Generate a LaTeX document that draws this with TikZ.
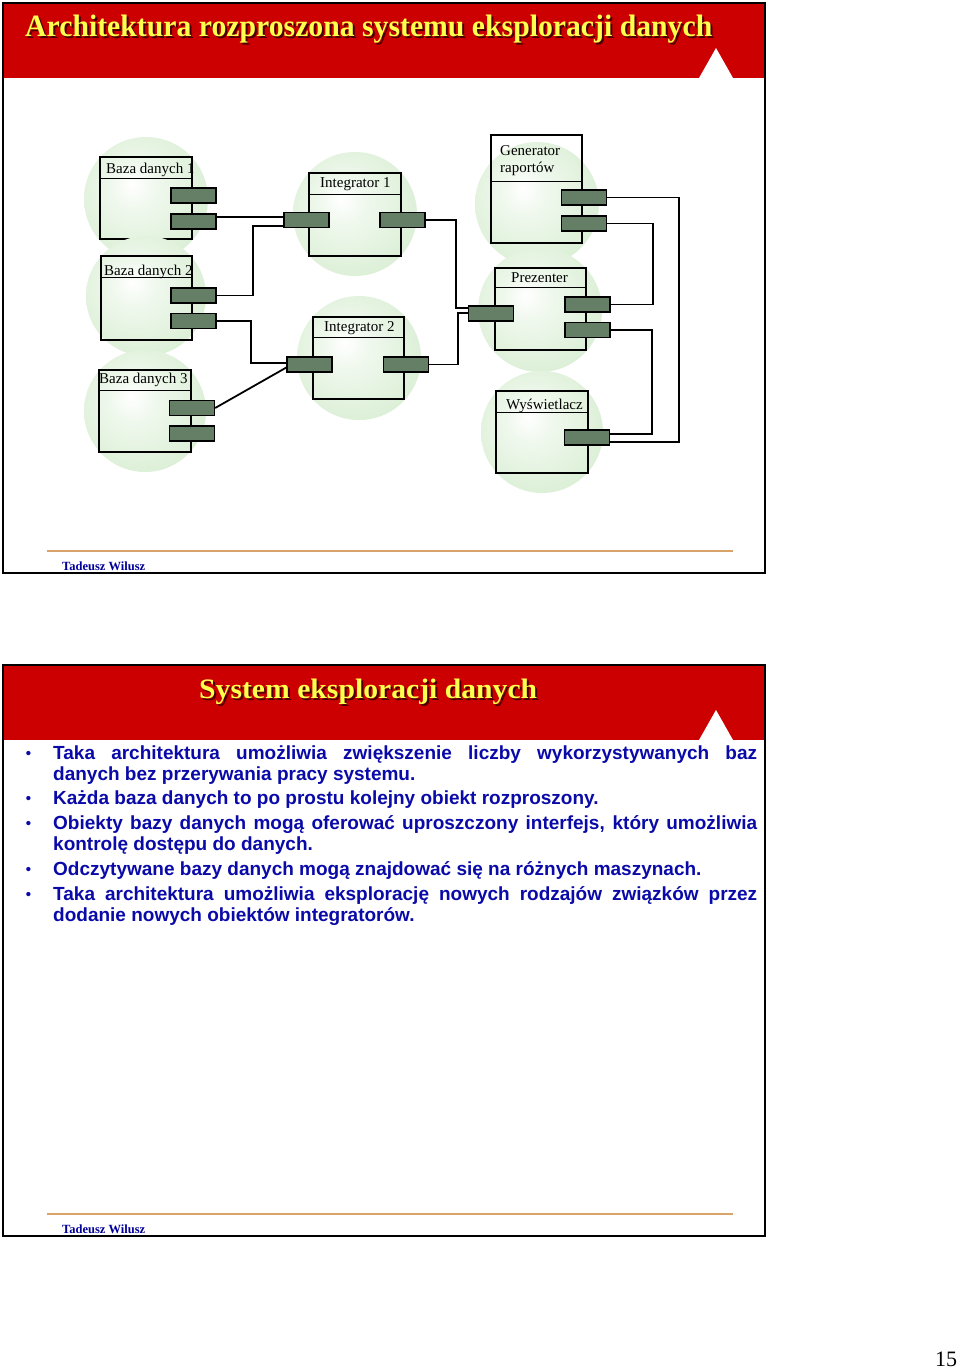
\documentclass[tikz,border=0pt]{standalone}
\usepackage{fontspec}
\setmainfont{Liberation Serif}
\newfontfamily\arialfont{Liberation Sans}
\usetikzlibrary{calc}
\definecolor{hdrred}{HTML}{CC0000}
\definecolor{ttlyellow}{HTML}{FFFF4D}
\definecolor{ttlshadow}{HTML}{4A0000}
\definecolor{bubg}{HTML}{D0EAC9}
\colorlet{bubmid}{bubg!35!white}
\definecolor{portg}{HTML}{657E66}
\definecolor{bulblue}{HTML}{0A0AA8}
\definecolor{footblue}{HTML}{000099}
\definecolor{footline}{HTML}{D9A36A}
\pgfdeclareradialshading{bubblesh}{\pgfpoint{-6bp}{6bp}}{color(0bp)=(white); color(10bp)=(bubmid); color(40bp)=(bubg); color(50bp)=(bubg)}
\begin{document}
\begin{tikzpicture}[x=1pt,y=-1pt,
  comp/.style={draw=black, line width=1.5pt, inner sep=0pt},
  port/.style={draw=black, line width=1.3pt, fill=portg, minimum width=45pt, minimum height=15pt, inner sep=0pt},
  wire/.style={draw=black, line width=1.8pt},
  lbl/.style={anchor=base west, inner sep=0pt, font=\fontsize{15}{17.3}\selectfont},
  bub/.style={shading=bubblesh},
  slideframe/.style={draw=black, line width=2pt},
  ttl/.style={anchor=base west, inner sep=0pt, font=\bfseries},
  foot/.style={anchor=base west, inner sep=0pt, text=footblue, font=\fontsize{12.5}{12.5}\selectfont\bfseries},
  footrule/.style={draw=footline, line width=2pt},
  bul/.style={anchor=base west, inner sep=0pt, text=bulblue, font=\arialfont\bfseries\fontsize{19}{21}\selectfont}]
\useasboundingbox (0,0) rectangle (960,1371);
\fill[white] (0,0) rectangle (960,1371);

% ---------- slide 1 ----------
\fill[hdrred] (3,3) rectangle (765,78);
\fill[white] (699,78) -- (716,48) -- (733,78) -- cycle;
\node[ttl, text=ttlshadow] at (27,38) {\resizebox{687pt}{21.5pt}{Architektura rozproszona systemu eksploracji danych}};
\node[ttl, text=ttlyellow] (title1) at (25,36) {\resizebox{687pt}{21.5pt}{Architektura rozproszona systemu eksploracji danych}};
\draw[slideframe] (3,3) rectangle (765,573);

% Baza danych 1
\shade[bub] (146,199) circle (62pt);
\node[comp, minimum width=92pt, minimum height=82pt] (bd1) at (146,198) {};
\draw[comp] ([yshift=-22pt]bd1.north west) -- ([yshift=-22pt]bd1.north east);
\node[lbl] at (106,173) {Baza danych 1};
\node[port] (bd1p1) at (193.5,195.5) {};
\node[port] (bd1p2) at (193.5,221.5) {};

% Baza danych 2
\shade[bub] (146,296) circle (60pt);
\node[comp, minimum width=91pt, minimum height=84pt] (bd2) at (146.5,298) {};
\draw[comp] ([yshift=-22pt]bd2.north west) -- ([yshift=-22pt]bd2.north east);
\node[lbl] at (104,275) {Baza danych 2};
\node[port] (bd2p1) at (193.5,295.5) {};
\node[port] (bd2p2) at (193.5,321) {};

% Baza danych 3
\shade[bub] (145,411) circle (61pt);
\node[comp, minimum width=92pt, minimum height=82pt] (bd3) at (145,411) {};
\draw[comp] ([yshift=-21pt]bd3.north west) -- ([yshift=-21pt]bd3.north east);
\node[lbl] at (99,383.5) {Baza danych 3};
\node[port] (bd3p1) at (192,408) {};
\node[port] (bd3p2) at (192,433.5) {};

% Integrator 1
\shade[bub] (355,214) circle (62pt);
\node[comp, minimum width=92pt, minimum height=83pt] (int1) at (355,214.5) {};
\draw[comp] ([yshift=-22pt]int1.north west) -- ([yshift=-22pt]int1.north east);
\node[lbl] at (320,187) {Integrator 1};
\node[port] (int1pl) at (306.5,220) {};
\node[port] (int1pr) at (402.5,220) {};

% Integrator 2
\shade[bub] (359,358) circle (62pt);
\node[comp, minimum width=91pt, minimum height=82pt] (int2) at (358.5,358) {};
\draw[comp] ([yshift=-21pt]int2.north west) -- ([yshift=-21pt]int2.north east);
\node[lbl] at (324,331) {Integrator 2};
\node[port] (int2pl) at (309.5,364.5) {};
\node[port] (int2pr) at (406,364.5) {};

% Generator raportow
\shade[bub] (537,204) circle (62pt);
\node[comp, minimum width=91pt, minimum height=108pt] (gen) at (536.5,189) {};
\draw[comp] ([yshift=-47pt]gen.north west) -- ([yshift=-47pt]gen.north east);
\node[lbl] at (500,155) {\parbox[t]{80pt}{\raggedright Generator\\raportów}};
\node[port] (genp1) at (584,197.5) {};
\node[port] (genp2) at (584,223.5) {};

% Prezenter
\shade[bub] (540,310) circle (62pt);
\node[comp, minimum width=91pt, minimum height=82pt] (prez) at (540.5,309) {};
\draw[comp] ([yshift=-20pt]prez.north west) -- ([yshift=-20pt]prez.north east);
\node[lbl] at (511,282) {Prezenter};
\node[port] (prezpl) at (491,313.5) {};
\node[port] (prezp1) at (587.5,304.5) {};
\node[port] (prezp2) at (587.5,330) {};

% Wyswietlacz
\shade[bub] (542,432) circle (61pt);
\node[comp, minimum width=92pt, minimum height=82pt] (wys) at (542,432) {};
\draw[comp] ([yshift=-22pt]wys.north west) -- ([yshift=-22pt]wys.north east);
\node[lbl] at (506,409) {Wyświetlacz};
\node[port] (wysp) at (587,437.5) {};

% connectors
\coordinate (j0) at (250,217);
\coordinate (j1) at (253,226);
\coordinate (j2) at (251,363);
\coordinate (j3) at (456,308);
\coordinate (j4) at (458,313);
\coordinate (j5) at (679,442);
\coordinate (j6) at (653,304.5);
\coordinate (j7) at (652,434);
\draw[wire] (j0 -| bd1p2.east) -- (j0 -| int1pl.west);
\draw[wire] (bd2p1.east) -| (j1) -- (j1 -| int1pl.west);
\draw[wire] (bd2p2.east) -| (j2) -- (j2 -| int2pl.west);
\draw[wire] (bd3p1.east) -- ([yshift=-3pt]int2pl.west);
\draw[wire] (int1pr.east) -| (j3) -- (j3 -| prezpl.west);
\draw[wire] (int2pr.east) -| (j4) -- (j4 -| prezpl.west);
\draw[wire] (genp1.east) -| (j5) -- (j5 -| wysp.east);
\draw[wire] (genp2.east) -| (j6) -- (j6 -| prezp1.east);
\draw[wire] (prezp2.east) -| (j7) -- (j7 -| wysp.east);

% footer 1
\draw[footrule] (47,551) -- (733,551);
\node[foot] (foot1) at (62,570) {Tadeusz Wilusz};

% ---------- slide 2 ----------
\fill[hdrred] (3,665) rectangle (765,740);
\fill[white] (699,740) -- (716,710) -- (733,740) -- cycle;
\node[ttl, text=ttlshadow] at (201,700) {\resizebox{338pt}{19.5pt}{System eksploracji danych}};
\node[ttl, text=ttlyellow] (title2) at (199,698) {\resizebox{338pt}{19.5pt}{System eksploracji danych}};
\draw[slideframe] (3,665) rectangle (765,1236);

\newcommand\bulmark{\noindent\llap{\fontsize{15}{15}\selectfont\raisebox{1pt}{•}\hspace{22pt}}}
\node[bul] (b1) at (53,759) {\parbox[t]{704pt}{\hbadness=10000 \bulmark Taka architektura umożliwia zwiększenie liczby wykorzystywanych baz\linebreak danych bez przerywania pracy systemu.}};
\node[bul] (b2) at (53,804.5) {\parbox[t]{704pt}{\bulmark Każda baza danych to po prostu kolejny obiekt rozproszony.}};
\node[bul] (b3) at (53,829.5) {\parbox[t]{704pt}{\hbadness=10000 \bulmark Obiekty bazy danych mogą oferować uproszczony interfejs, który umożliwia\linebreak kontrolę dostępu do danych.}};
\node[bul] (b4) at (53,875) {\parbox[t]{704pt}{\bulmark Odczytywane bazy danych mogą znajdować się na różnych maszynach.}};
\node[bul] (b5) at (53,900) {\parbox[t]{704pt}{\hbadness=10000 \bulmark Taka architektura umożliwia eksplorację nowych rodzajów związków przez\linebreak dodanie nowych obiektów integratorów.}};

% footer 2
\draw[footrule] (47,1214) -- (733,1214);
\node[foot] (foot2) at (62,1233) {Tadeusz Wilusz};

% page number
\node[anchor=base west, inner sep=0pt, font=\fontsize{22}{22}\selectfont] (pnum) at (935,1366) {15};
\end{tikzpicture}
\end{document}
